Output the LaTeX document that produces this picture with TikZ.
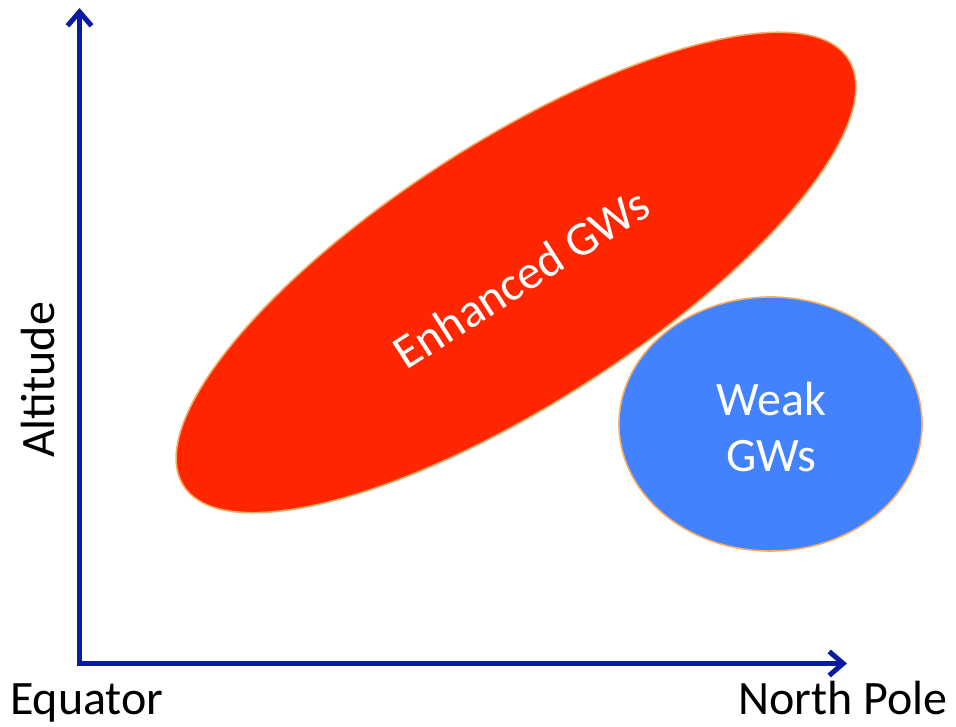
\documentclass[tikz,border=0pt]{standalone}
\usepackage{fontspec}
\setmainfont{Carlito}
\usetikzlibrary{arrows.meta}
\definecolor{axisblue}{RGB}{8,28,160}
\definecolor{hotred}{RGB}{255,38,0}
\definecolor{weakblue}{RGB}{66,130,255}
\definecolor{rimorange}{RGB}{245,172,100}
\tikzset{
  axis/.style={draw=axisblue, line width=5pt, -{Straight Barb[length=14pt,width=24pt,line width=5pt]}},
  blob/.style={draw=rimorange, line width=1.6pt},
  lbl/.style={font=\fontsize{48}{56}\selectfont, text=black, inner sep=0pt},
  wlbl/.style={font=\fontsize{48}{56}\selectfont, text=white, inner sep=0pt, align=center}
}
\begin{document}
\begin{tikzpicture}[x=1pt,y=1pt]
\useasboundingbox (0,0) rectangle (956,727);
\coordinate (origin) at (79.5,63.5);
\coordinate (ytop) at (79.5,719);
\coordinate (xend) at (847,63.5);
\draw[blob, fill=hotred] (516,454.5) ellipse [x radius=395, y radius=131, rotate=32.7];
\draw[blob, fill=weakblue] (770.5,303) ellipse [x radius=151.5, y radius=127];
\node[wlbl, rotate=32.7] (enh) at (521,449) {Enhanced GWs};
\node[wlbl] (weak) at (771,300) {Weak\\GWs};
\draw[axis, line cap=rect] (origin) -- (ytop);
\draw[axis, line cap=rect] (origin) -- (xend);
\node[lbl, anchor=base west] (eq) at (10,12) {Equator};
\node[lbl, anchor=base east] (np) at (948,12) {North Pole};
\node[lbl, anchor=base, rotate=90] (alt) at (54,347) {Altitude};
\end{tikzpicture}
\end{document}
